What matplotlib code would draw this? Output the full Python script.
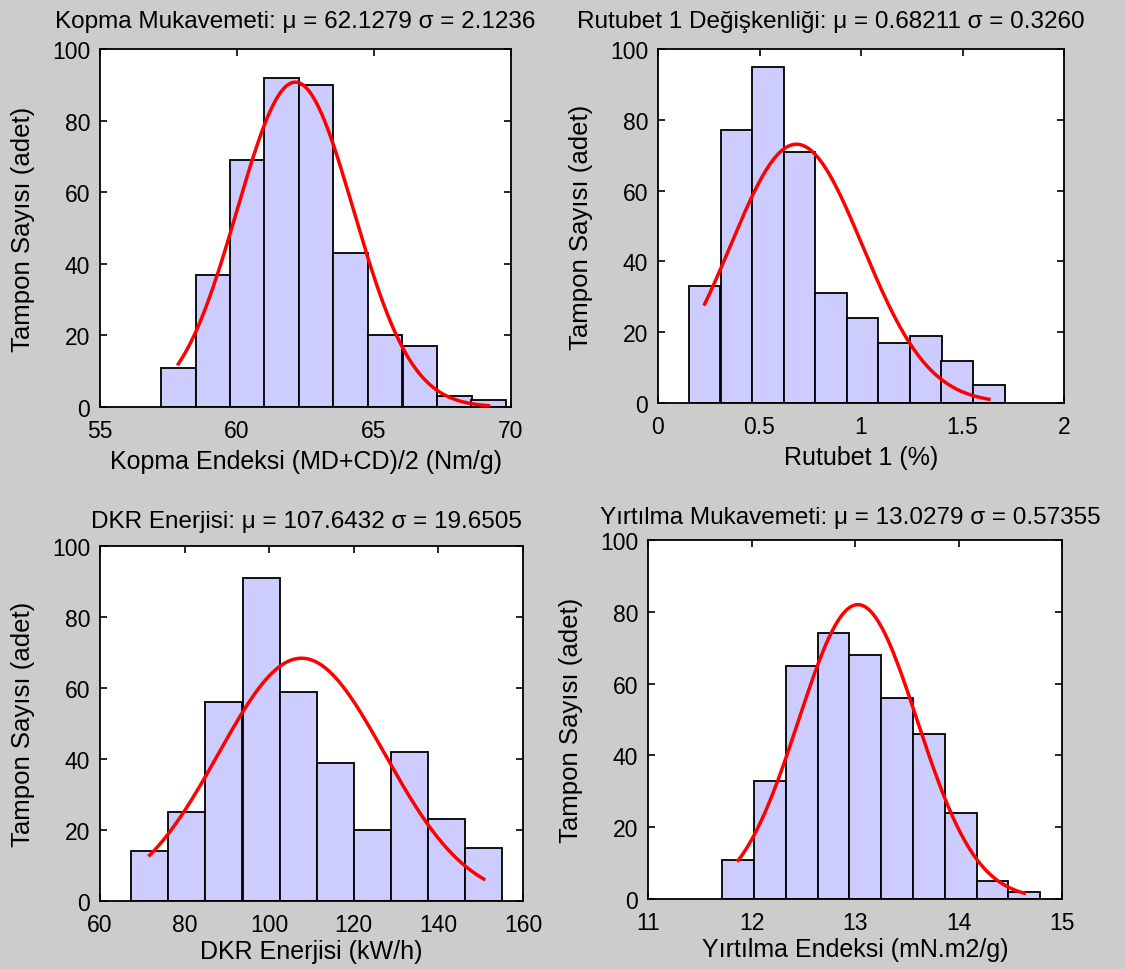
import numpy as np
import matplotlib
matplotlib.use("Agg")
import matplotlib.pyplot as plt
from matplotlib.ticker import FuncFormatter

plt.rcParams['font.family'] = ['Liberation Sans', 'DejaVu Sans']

# ---------------- data ----------------
# Panel 1: Kopma Mukavemeti
kopma_centers = [57.86, 59.12, 60.38, 61.63, 62.89, 64.15, 65.41, 66.67, 67.93, 69.18]
kopma_counts = [11, 37, 69, 92, 90, 43, 20, 17, 3, 2]
kopma_mu, kopma_sigma = 62.1279, 2.1236

# Panel 2: Rutubet 1
rutubet_centers = [0.230, 0.386, 0.541, 0.697, 0.852, 1.008, 1.163, 1.319, 1.474, 1.630]
rutubet_counts = [33, 77, 95, 71, 31, 24, 17, 19, 12, 5]
rutubet_mu, rutubet_sigma = 0.68211, 0.3260

# Panel 3: DKR Enerjisi
dkr_centers = [71.76, 80.53, 89.30, 98.08, 106.85, 115.62, 124.40, 133.17, 141.94, 150.72]
dkr_counts = [14, 25, 56, 91, 59, 39, 20, 42, 23, 15]
dkr_mu, dkr_sigma = 107.6432, 19.6505

# Panel 4: Yirtilma Mukavemeti
yirt_centers = [11.872, 12.179, 12.486, 12.793, 13.100, 13.407, 13.714, 14.021, 14.328, 14.635]
yirt_counts = [11, 33, 65, 74, 68, 56, 46, 24, 5, 2]
yirt_mu, yirt_sigma = 13.0279, 0.57355

titles = [
    "Kopma Mukavemeti: \u03bc = 62.1279 \u03c3 = 2.1236",
    "Rutubet 1 De\u011fi\u015fkenli\u011fi: \u03bc = 0.68211 \u03c3 = 0.3260",
    "DKR Enerjisi: \u03bc = 107.6432 \u03c3 = 19.6505",
    "Y\u0131rt\u0131lma Mukavemeti: \u03bc = 13.0279 \u03c3 = 0.57355",
]
xlabels = [
    "Kopma Endeksi (MD+CD)/2 (Nm/g)",
    "Rutubet 1 (%)",
    "DKR Enerjisi (kW/h)",
    "Y\u0131rt\u0131lma Endeksi (mN.m2/g)",
]
ylabel = "Tampon Say\u0131s\u0131 (adet)"
xlims = [(55, 70), (0, 2), (60, 160), (11, 15)]
xticks = [[55, 60, 65, 70], [0, 0.5, 1, 1.5, 2], [60, 80, 100, 120, 140, 160], [11, 12, 13, 14, 15]]
yticks = [0, 20, 40, 60, 80, 100]

panels = [
    (kopma_centers, kopma_counts, kopma_mu, kopma_sigma),
    (rutubet_centers, rutubet_counts, rutubet_mu, rutubet_sigma),
    (dkr_centers, dkr_counts, dkr_mu, dkr_sigma),
    (yirt_centers, yirt_counts, yirt_mu, yirt_sigma),
]

# ---------------- layout (pixels) ----------------
W, H = 1126, 970
boxes = [(100, 50, 511, 408), (658, 50, 1064, 404), (100, 547, 523, 902), (648, 541, 1062, 900)]
title_pos = [(295, 28), (831, 28), (306, 528), (850, 524)]
xlabel_pad = [5, 5, 2, 2]

fig = plt.figure(figsize=(W / 100, H / 100), dpi=100, facecolor='#CCCCCC')

fmt = FuncFormatter(lambda v, p: '%g' % v)

for i, (centers, counts, mu, sigma) in enumerate(panels):
    x0, y0, x1, y1 = boxes[i]
    ax = fig.add_axes([x0 / W, 1 - y1 / H, (x1 - x0) / W, (y1 - y0) / H])
    ax.set_facecolor('white')
    c = np.asarray(centers, dtype=float)
    n = np.asarray(counts, dtype=float)
    w = (c[-1] - c[0]) / (len(c) - 1)
    ax.bar(c, n, width=w, color='#CCCCFF', edgecolor='black', linewidth=1.3, zorder=2)
    xs = np.linspace(c[0], c[-1], 200)
    ys = n.sum() * w / (sigma * np.sqrt(2 * np.pi)) * np.exp(-0.5 * ((xs - mu) / sigma) ** 2)
    ax.plot(xs, ys, color='red', linewidth=2.5, zorder=3)
    ax.set_xlim(*xlims[i])
    ax.set_ylim(0, 100)
    ax.set_xticks(xticks[i])
    ax.set_yticks(yticks)
    ax.xaxis.set_major_formatter(fmt)
    ax.yaxis.set_major_formatter(fmt)
    ax.tick_params(direction='in', length=5, width=1.2, top=True, right=True,
                   labelsize=16.5, colors='black')
    ax.tick_params(axis='x', pad=9)
    ax.tick_params(axis='y', pad=7)
    for s in ax.spines.values():
        s.set_linewidth(1.3)
    ax.set_xlabel(xlabels[i], fontsize=18, labelpad=xlabel_pad[i])
    ax.set_ylabel(ylabel, fontsize=18.5, labelpad=12)
    tx, ty = title_pos[i]
    fig.text(tx / W, 1 - ty / H, titles[i], fontsize=17.5, ha='center', va='baseline')

fig.savefig('out.png', dpi=100, facecolor=fig.get_facecolor())
